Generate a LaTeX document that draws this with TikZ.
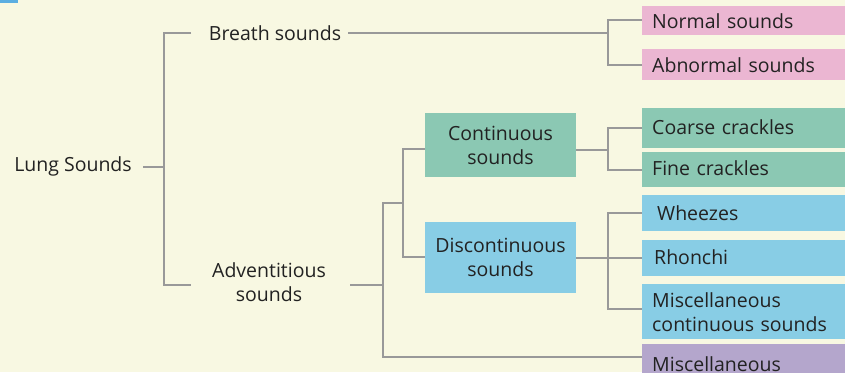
\documentclass[tikz,border=0pt]{standalone}
\usepackage{fontspec}
\setmainfont{Open Sans}
\definecolor{bg}{HTML}{F8F8E2}
\definecolor{ln}{HTML}{999999}
\definecolor{tx}{HTML}{222222}
\definecolor{pinkc}{HTML}{EBB6D2}
\definecolor{greenc}{HTML}{8BC8B3}
\definecolor{bluec}{HTML}{88CDE5}
\definecolor{purplec}{HTML}{B4A6CC}
\definecolor{tabc}{HTML}{5BAEE1}
\newcommand{\fsz}{\fontsize{19.5}{24}\selectfont}
\tikzset{
  conn/.style={draw=ln, line width=2.2pt},
  lbl/.style={text=tx, font=\fsz, inner sep=0pt, align=center},
  midbox/.style={text=tx, font=\fsz, inner sep=0pt, align=center, minimum width=151pt},
  leaf/.style={anchor=north west, text=tx, font=\fsz, inner xsep=10pt, inner ysep=0pt, minimum width=215pt, text width=195pt, align=left},
}
\begin{document}
\begin{tikzpicture}[x=1pt,y=-1pt]
\useasboundingbox (0,0) rectangle (845,372);
\clip (0,0) rectangle (845,372);
\fill[bg] (0,0) rectangle (845,372);
\fill[tabc] (0,0) rectangle (18,3);
% text nodes
\node[lbl] (lung) at (73,166) {Lung Sounds};
\node[lbl] (breath) at (275,33) {Breath sounds};
\node[lbl] (advent) at (269,282) {Adventitious\\sounds};
\node[midbox, fill=greenc, minimum height=64pt] (cont) at (500.5,145) {Continuous\\sounds};
\node[midbox, fill=bluec, minimum height=71pt] (disc) at (500.5,257.5) {Discontinuous\\sounds};
% leaves
\node[leaf, fill=pinkc, minimum height=29pt] (normal) at (642,6) {Normal sounds};
\node[leaf, fill=pinkc, minimum height=31pt] (abnormal) at (642,49) {Abnormal sounds};
\node[leaf, fill=greenc, minimum height=40pt] (coarse) at (642,108) {\raisebox{3pt}{Coarse crackles}};
\node[leaf, fill=greenc, minimum height=35pt] (fine) at (642,152) {\raisebox{3pt}{Fine crackles}};
\node[leaf, fill=bluec, minimum height=36pt, inner xsep=15pt] (wheeze) at (642,195) {\raisebox{1pt}{Wheezes}};
\node[leaf, fill=bluec, minimum height=36pt, inner xsep=12pt] (rhonchi) at (642,240) {\raisebox{3pt}{Rhonchi}};
\node[leaf, fill=bluec, minimum height=55pt, inner xsep=7pt] (miscc) at (642,284) {Miscellaneous\\continuous sounds};
\node[leaf, fill=purplec, minimum height=40pt, anchor=north west] (misc) at (642,344) {\raisebox{-7pt}{Miscellaneous}};
% junction coordinates
\coordinate (jA) at (164,167);
\coordinate (eB) at (191,33);
\coordinate (eC) at (191,285);
\coordinate (jD) at (608,33);
\coordinate (jE) at (383,285);
\coordinate (jF) at (403,203);
\coordinate (jG) at (608,150);
\coordinate (jH) at (608,258);
% connectors
\draw[conn] (143,167) -- (jA);
\draw[conn] (eB) -| (jA) |- (eC);
\draw[conn] (348,33) -- (jD);
\draw[conn] (normal.west |- 0,20) -| (jD) |- (abnormal.west |- 0,65);
\draw[conn] (350,285) -- (jE);
\draw[conn] (jF) -| (jE) |- (misc.west |- 0,357);
\draw[conn] (cont.west |- 0,149) -| (jF) |- (disc.west |- 0,257);
\draw[conn] (cont.east |- jG) -- (jG);
\draw[conn] (coarse.west |- 0,128) -| (jG) |- (fine.west |- 0,170);
\draw[conn] (disc.east |- 0,258) -- (jH);
\draw[conn] (wheeze.west |- 0,213) -| (jH) |- (miscc.west |- 0,309);
\draw[conn] (jH) -- (rhonchi.west |- 0,258);
\end{tikzpicture}
\end{document}
